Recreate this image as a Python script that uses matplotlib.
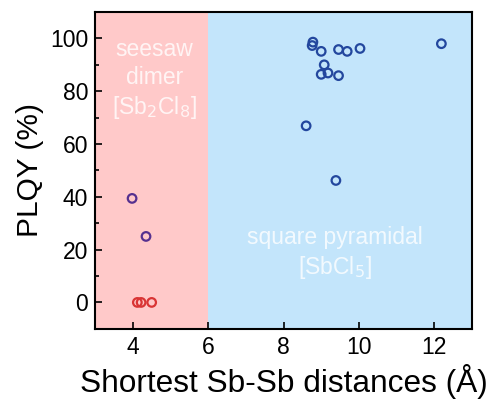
import matplotlib
matplotlib.use("Agg")
import matplotlib.pyplot as plt
from matplotlib.ticker import MultipleLocator

plt.rcParams['font.family'] = ['Liberation Sans', 'DejaVu Sans']

# square pyramidal [SbCl5]
sq_x = [8.78, 8.76, 9.0, 9.46, 9.69, 10.03, 9.08, 9.0, 9.18, 9.46, 12.19, 8.6, 9.39]
sq_y = [98.6, 97.3, 95.1, 95.8, 95.1, 96.2, 90.0, 86.4, 86.9, 85.9, 98.0, 66.9, 46.2]

# seesaw dimer, emissive
dim_x = [3.98, 4.35]
dim_y = [39.4, 25.0]

# seesaw dimer, non-emissive
dark_x = [4.12, 4.22, 4.5]
dark_y = [0.0, 0.0, 0.0]

fig = plt.figure(figsize=(4.88, 4.01), dpi=100)
ax = fig.add_axes([0.195, 0.18, 0.772, 0.79])

ax.axvspan(3, 6, color='#FFC9C9', lw=0, zorder=0)
ax.axvspan(6, 13, color='#C3E5FB', lw=0, zorder=0)

ms = dict(marker='o', facecolors='none', s=38, linewidths=1.6, zorder=3)
ax.scatter(sq_x, sq_y, edgecolors='#23479E', **ms)
ax.scatter(dim_x, dim_y, edgecolors='#55308F', **ms)
ax.scatter(dark_x, dark_y, edgecolors='#D93434', **ms)

txt = dict(color='white', alpha=0.8, fontsize=16.5, ha='center', va='center',
           linespacing=1.25)
ax.text(4.57, 84.5, 'seesaw\ndimer\n[Sb$_2$Cl$_8$]', **txt)
ax.text(9.36, 18.6, 'square pyramidal\n[SbCl$_5$]', **txt)

ax.set_xlim(3, 13)
ax.set_ylim(-10, 110)
ax.xaxis.set_major_locator(MultipleLocator(2))
ax.yaxis.set_major_locator(MultipleLocator(20))
ax.yaxis.set_minor_locator(MultipleLocator(10))
ax.tick_params(direction='in', which='both', labelsize=16.5, width=1.2)
ax.tick_params(which='major', length=5, pad=5)
ax.tick_params(which='minor', length=3)
ax.tick_params(axis='x', top=False)
for s in ax.spines.values():
    s.set_linewidth(1.5)

ax.set_xlabel('Shortest Sb-Sb distances (Å)', fontsize=22.8, labelpad=4)
ax.set_ylabel('PLQY (%)', fontsize=21.5, labelpad=4)

fig.savefig('out.png', dpi=100)
